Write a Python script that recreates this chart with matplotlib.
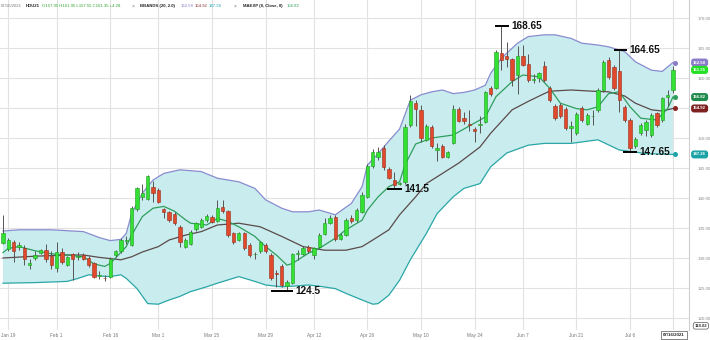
import numpy as np
import matplotlib
matplotlib.use("Agg")
import matplotlib.pyplot as plt
import matplotlib.transforms as mtransforms

plt.rcParams['font.family'] = ['Liberation Sans', 'DejaVu Sans']

# ---- daily OHLC, one entry per trading session (Jan 15 .. Jul 16, 2021) ----
opens = [132.5, 131.5, 132.6, 131.9, 131.7, 128.8, 130.05, 130.8, 131.3, 130.3,
         128.4, 131.05, 128.8, 130.6, 130.2, 130.5, 130.0, 129.1, 127.0, 126.7,
         126.9, 130.5, 131.1, 132.9, 132.2, 138.1, 140.2, 139.9, 141.9, 141.4,
         138.1, 137.6, 137.4, 135.2, 131.9, 132.4, 134.8, 135.2, 136.3, 136.9,
         136.2, 138.55, 137.8, 134.1, 133.0, 134.1, 132.2, 130.6, 131.1, 132.2,
         130.5, 127.5, 128.7, 125.4, 125.9, 130.7, 130.7, 131.8, 130.5, 131.8,
         134.0, 135.8, 136.9, 133.2, 133.8, 136.6, 136.3, 137.7, 140.2, 145.3,
         146.9, 148.3, 144.8, 143.0, 142.3, 142.7, 152.2, 155.9, 154.7, 149.7,
         151.9, 148.0, 148.6, 146.9, 149.2, 154.9, 153.3, 152.3, 151.5, 152.2,
         152.7, 158.4, 158.3, 164.1, 163.7, 163.1, 160.5, 163.7, 162.3, 159.6,
         160.0, 162.0, 158.4, 155.3, 155.5, 154.8, 151.6, 150.8, 155.0, 152.4,
         153.6, 154.7, 158.0, 163.0, 161.9, 161.1, 155.2, 153.0, 148.6, 150.8,
         151.3, 150.5, 154.1, 153.0, 156.8, 157.95]
highs = [137.2, 133.4, 133.0, 132.7, 132.2, 129.9, 131.2, 131.5, 132.4, 131.1,
         132.7, 131.6, 130.4, 130.9, 131.0, 130.8, 130.3, 129.4, 127.8, 127.2,
         130.2, 131.4, 133.3, 133.6, 138.6, 141.9, 142.4, 143.8, 142.8, 141.6,
         138.4, 137.9, 137.6, 135.5, 133.3, 134.7, 136.0, 136.6, 137.4, 137.2,
         139.7, 139.7, 138.0, 134.4, 134.4, 134.4, 132.5, 131.0, 132.9, 132.5,
         130.8, 128.0, 129.0, 126.4, 130.9, 131.4, 132.0, 132.1, 131.9, 134.1,
         136.6, 137.2, 137.2, 134.1, 136.6, 137.2, 138.3, 141.0, 145.6, 148.2,
         148.5, 148.9, 145.1, 144.3, 142.7, 152.3, 157.2, 156.3, 155.5, 152.4,
         152.2, 149.1, 149.0, 147.9, 155.5, 155.2, 154.3, 154.7, 151.9, 153.6,
         157.9, 158.7, 164.7, 168.65, 166.0, 163.4, 165.3, 165.5, 164.0, 160.7,
         161.0, 162.8, 158.7, 155.6, 155.8, 155.1, 152.8, 154.3, 155.3, 154.1,
         154.6, 158.3, 163.0, 163.5, 162.2, 164.65, 155.5, 153.3, 150.2, 152.5,
         153.0, 154.1, 154.4, 156.9, 158.0, 161.95]
lows = [132.3, 131.2, 129.4, 131.3, 128.8, 128.2, 129.7, 130.6, 129.4, 128.2,
        127.7, 129.0, 128.6, 126.3, 129.7, 129.6, 128.5, 126.6, 126.5, 126.2,
        126.6, 130.2, 130.9, 132.3, 132.0, 137.8, 139.6, 139.7, 139.4, 139.1,
        136.7, 136.0, 135.5, 131.9, 131.6, 132.2, 134.5, 135.0, 136.0, 135.8,
        136.0, 137.5, 133.5, 132.4, 132.8, 131.3, 130.2, 129.8, 130.9, 130.8,
        126.3, 125.2, 125.2, 124.5, 125.6, 129.6, 130.5, 130.9, 129.9, 131.6,
        133.8, 135.6, 132.9, 133.0, 133.6, 135.8, 136.0, 137.5, 140.0, 145.0,
        146.3, 144.6, 143.1, 141.5, 142.1, 142.4, 151.9, 152.0, 149.4, 149.5,
        148.3, 146.1, 146.6, 146.6, 149.0, 152.6, 152.3, 151.2, 149.3, 150.9,
        152.5, 157.0, 158.1, 161.3, 161.9, 158.6, 157.4, 162.0, 159.4, 159.1,
        159.3, 159.4, 156.0, 153.0, 153.4, 151.3, 149.4, 150.5, 152.7, 152.1,
        152.2, 154.4, 157.7, 159.9, 158.0, 154.4, 152.7, 147.65, 148.3, 150.5,
        150.4, 150.2, 151.9, 152.7, 155.4, 157.55]
closes = [134.2, 133.0, 131.1, 132.1, 129.9, 129.2, 130.5, 131.3, 129.8, 128.8,
          131.05, 129.4, 130.1, 129.9, 130.4, 129.9, 128.8, 126.9, 127.1, 126.6,
          129.8, 131.1, 133.0, 133.0, 138.3, 141.6, 140.8, 143.6, 140.9, 139.4,
          137.6, 136.4, 135.8, 132.7, 133.0, 134.4, 135.8, 136.3, 137.05, 136.05,
          138.4, 137.8, 133.8, 132.7, 134.1, 131.6, 130.5, 130.7, 132.6, 131.1,
          126.6, 127.3, 125.5, 126.0, 130.6, 130.9, 131.7, 131.1, 131.7, 133.8,
          135.9, 136.6, 133.1, 133.8, 136.3, 136.1, 138.0, 140.5, 145.3, 147.7,
          147.7, 145.1, 143.4, 142.2, 142.4, 151.9, 156.2, 154.8, 150.0, 152.0,
          148.6, 148.4, 146.9, 147.7, 154.8, 152.9, 152.9, 152.2, 151.1, 152.4,
          157.7, 157.3, 164.4, 163.0, 163.1, 159.7, 163.7, 162.2, 159.7, 159.8,
          160.8, 159.7, 156.3, 153.3, 153.7, 151.6, 152.0, 154.0, 153.0, 153.8,
          153.7, 158.0, 162.7, 160.2, 158.3, 156.3, 153.0, 148.3, 149.9, 152.2,
          152.7, 153.8, 152.2, 156.6, 157.2, 161.35]

# ---- Bollinger bands (20, 2.0): session index -> value ----
upper_idx = [0, 3, 9, 15, 18, 20, 22, 23, 24, 26, 28, 30, 33, 37, 40, 44, 47, 49,
             52, 54, 57, 59, 62, 65, 67, 68, 70, 72, 74, 76, 78, 80, 82, 84, 86,
             88, 90, 91, 93, 96, 98, 101, 103, 106, 108, 111, 113, 116, 118, 121,
             123, 125]
upper_band = [134.5, 134.7, 134.7, 134.4, 133.4, 132.9, 133.1, 134.1, 137.4, 140.8,
              143.0, 144.1, 144.7, 144.4, 143.3, 142.7, 141.6, 139.7, 138.3, 137.7,
              137.7, 138.0, 137.2, 139.1, 141.9, 145.5, 147.4, 149.5, 151.5, 156.3,
              157.2, 157.7, 158.0, 157.4, 157.6, 158.0, 158.8, 160.8, 163.3, 165.8,
              166.9, 167.2, 167.2, 166.6, 165.8, 165.5, 165.2, 164.4, 162.7, 161.3,
              161.1, 162.58]
lower_idx = [0, 6, 12, 14, 16, 18, 20, 22, 23, 25, 27, 29, 31, 33, 35, 38, 40, 44,
             47, 49, 52, 54, 57, 59, 62, 64, 67, 69, 70, 72, 74, 76, 79, 81, 84,
             86, 89, 91, 94, 98, 101, 106, 111, 115, 120, 125]
lower_band = [125.8, 125.9, 126.1, 126.6, 127.2, 127.0, 126.9, 127.2, 126.6, 124.9,
              122.4, 122.3, 123.0, 123.6, 124.4, 125.2, 125.8, 126.9, 126.1, 125.5,
              125.2, 125.3, 125.5, 125.3, 124.9, 124.1, 123.0, 122.3, 122.4, 123.8,
              126.3, 129.7, 134.1, 137.4, 140.2, 141.6, 142.4, 145.2, 147.5, 148.8,
              149.1, 149.1, 149.7, 148.0, 147.4, 147.26]
mid_idx = [0, 6, 12, 15, 18, 20, 22, 24, 26, 29, 31, 34, 37, 40, 44, 48, 52, 56,
           60, 64, 67, 69, 72, 74, 77, 79, 82, 85, 89, 91, 95, 98, 101, 102, 106,
           110, 113, 116, 118, 121, 123, 125]
mid_band = [130.0, 130.3, 130.5, 130.5, 130.1, 129.9, 129.7, 130.2, 131.0, 131.9,
            133.0, 133.8, 134.4, 135.5, 135.8, 135.2, 133.6, 131.9, 131.3, 131.3,
            131.9, 133.0, 134.7, 137.2, 140.2, 142.4, 144.1, 145.8, 148.5, 150.8,
            154.7, 156.1, 157.4, 157.8, 158.0, 157.8, 157.7, 157.0, 155.8, 154.7,
            154.5, 154.92]

# ---- exponential moving average (8, close) ----
ema_idx = [0, 1, 3, 6, 9, 12, 15, 17, 19, 20, 21, 23, 24, 26, 28, 30, 32, 34, 35,
           38, 40, 42, 44, 47, 49, 51, 53, 54, 57, 59, 62, 64, 67, 68, 70, 72, 74,
           75, 77, 80, 84, 87, 90, 92, 95, 97, 100, 102, 104, 107, 109, 111, 113,
           115, 117, 119, 122, 124, 125]
ema_val = [130.9, 131.6, 131.9, 131.2, 130.7, 130.5, 130.2, 129.0, 128.6, 129.1,
           130.0, 131.9, 133.8, 136.9, 138.3, 138.6, 137.8, 136.4, 135.8, 135.5,
           136.6, 136.1, 135.2, 133.6, 131.9, 130.5, 128.8, 129.1, 130.8, 131.6,
           133.3, 134.7, 136.3, 138.0, 140.2, 141.9, 142.7, 145.5, 149.0, 150.0,
           150.5, 152.0, 153.5, 156.9, 159.4, 160.5, 160.2, 158.3, 155.8, 154.9,
           154.7, 155.2, 157.4, 157.7, 155.2, 153.3, 153.0, 154.9, 156.82]

# ---- x axis labels ----
tick_idx = [1, 10, 20, 29, 39, 49, 58, 68, 78, 88, 97, 107, 117]
tick_labels = ["Jan 19", "Feb 1", "Feb 16", "Mar 1", "Mar 15", "Mar 29", "Apr 12",
               "Apr 26", "May 10", "May 24", "Jun 7", "Jun 21", "Jul 6"]
price_ticks = [120, 125, 130, 135, 140, 145, 150, 155, 160, 165, 170]

# ---- marked highs / lows ----
mark_levels = [168.65, 164.65, 147.65, 141.5, 124.5]
mark_text = ["168.65", "164.65", "147.65", "141.5", "124.5"]
mark_from = [91.8, 114.0, 115.7, 71.6, 50.0]
mark_to = [94.4, 116.4, 118.3, 74.4, 54.1]

W, H = 710, 340
fig = plt.figure(figsize=(W / 100, H / 100), dpi=100)
fig.patch.set_facecolor("white")
ax = fig.add_axes([0, 10 / H, 689 / W, 330 / H])
ax.set_xlim(-0.56, 128.0)
ax.set_ylim(118.0, 173.0)
ax.set_facecolor("white")

# grid
for p in price_ticks:
    ax.axhline(p, color="#e2e2e2", lw=0.8, zorder=0)
for t in tick_idx + [125]:
    ax.axvline(t, color="#e2e2e2", lw=0.8, zorder=0)

# bands
poly_x = list(upper_idx) + list(lower_idx[::-1])
poly_y = list(upper_band) + list(lower_band[::-1])
ax.fill(poly_x, poly_y, color="#c9ecee", zorder=1, lw=0)
ax.plot(upper_idx, upper_band, color="#8a8ccf", lw=0.9, zorder=2)
ax.plot(lower_idx, lower_band, color="#2aa6a6", lw=0.9, zorder=2)
ax.plot(mid_idx, mid_band, color="#5b4b4b", lw=0.9, zorder=2)
ax.plot(ema_idx, ema_val, color="#2e9e5c", lw=0.9, zorder=2)

# candles
idx = np.arange(len(closes))
o = np.array(opens); c = np.array(closes)
hi = np.array(highs); lo = np.array(lows)
up = c >= o
ax.vlines(idx, lo, hi, color="#555555", lw=0.7, zorder=3)
body_lo = np.minimum(o, c)
body_h = np.maximum(np.abs(c - o), 0.15)
ax.bar(idx[up], body_h[up], bottom=body_lo[up], width=0.62,
       color="#33e033", edgecolor="#1f9a1f", lw=0.4, zorder=4)
ax.bar(idx[~up], body_h[~up], bottom=body_lo[~up], width=0.62,
       color="#e0492c", edgecolor="#9a2e1c", lw=0.4, zorder=4)

# end-of-line dots
ax.plot([125.3], [upper_band[-1]], "o", ms=2.6, color="#8a7cc8", zorder=5)
ax.plot([125.3], [ema_val[-1]], "o", ms=2.6, color="#2e9e5c", zorder=5)
ax.plot([125.3], [mid_band[-1]], "o", ms=2.6, color="#8b2323", zorder=5)
ax.plot([125.3], [lower_band[-1]], "o", ms=2.6, color="#1fa5a8", zorder=5)

# marked levels
for lvl, txt, a, b in zip(mark_levels, mark_text, mark_from, mark_to):
    ax.hlines(lvl, a, b, color="black", lw=1.4, zorder=6)
    ax.text(b + 0.45, lvl, txt, fontsize=7.2, fontweight="bold",
            color="#111111", va="center", ha="left", zorder=7)

# crosshair at the bottom
ax.axhline(118.02, color="#9a9a9a", lw=0.6, ls=(0, (2, 2)), zorder=2)

# axes styling
for s in ["top", "left", "bottom"]:
    ax.spines[s].set_visible(False)
ax.spines["right"].set_color("#cfcfcf")
ax.spines["right"].set_linewidth(0.8)
ax.yaxis.tick_right()
ax.set_yticks(price_ticks)
# the 155 label sits under the price tags, so it is left blank
ax.set_yticklabels(["" if p == 155 else f"{p:.2f}" for p in price_ticks])
ax.tick_params(axis="y", length=0, pad=6, labelsize=3.2, colors="#8a8a8a")
ax.set_xticks(tick_idx)
ax.set_xticklabels(tick_labels)
ax.tick_params(axis="x", length=0, pad=2.2, labelsize=3.4, colors="#777777")

# price tags on the right scale
blend = mtransforms.blended_transform_factory(ax.transAxes, ax.transData)
tags = [(162.58, "#8a7cc8"), (161.35, "#22e022"), (156.82, "#1f8a4c"),
        (154.92, "#7d1f1f"), (147.26, "#1aa3a6")]
for val, col in tags:
    ax.text(1.006, val, f"{val:.2f}", transform=blend, fontsize=3.1,
            fontweight="bold", color="white", va="center", ha="left",
            clip_on=False, zorder=8,
            bbox=dict(boxstyle="round,pad=0.3,rounding_size=0.5",
                      fc=col, ec=col))
ax.text(1.008, 118.7, "118.02", transform=blend, fontsize=3.1,
        fontweight="bold", color="#333333", va="center", ha="left",
        clip_on=False, zorder=8,
        bbox=dict(boxstyle="round,pad=0.3,rounding_size=0.5",
                  fc="white", ec="#555555", lw=0.5))
fig.text(674 / W, 5 / H, "07/16/2021", fontsize=3.2, fontweight="bold",
         color="#222222", ha="center", va="center",
         bbox=dict(boxstyle="square,pad=0.4", fc="white", ec="#555555", lw=0.5))

# header line
hy = 1 - 6 / H
fs = 3.1
fig.text(1 / W, hy, "07/16/2021", fontsize=fs, color="#777777", va="center")
fig.text(26 / W, hy, "HOU21", fontsize=fs, color="#222222", fontweight="bold", va="center")
fig.text(42 / W, hy, "O157.95 H161.95 L157.55 C161.35 +4.28", fontsize=fs,
         color="#2fa52f", va="center")
fig.text(132 / W, hy, "\u00d7", fontsize=fs + 0.5, color="#777777", va="center")
fig.text(140 / W, hy, "BBANDS (20, 2.0)", fontsize=fs, color="#222222",
         fontweight="bold", va="center")
fig.text(181 / W, hy, "162.58", fontsize=fs, color="#8a7cc8", va="center")
fig.text(195 / W, hy, "154.92", fontsize=fs, color="#8b2a2a", va="center")
fig.text(209 / W, hy, "147.26", fontsize=fs, color="#1aa3a6", va="center")
fig.text(234 / W, hy, "\u00d7", fontsize=fs + 0.5, color="#777777", va="center")
fig.text(243 / W, hy, "MAEXP (8, Close, 0)", fontsize=fs, color="#222222",
         fontweight="bold", va="center")
fig.text(287 / W, hy, "156.82", fontsize=fs, color="#2e9e5c", va="center")

fig.savefig("out.png", dpi=100)
